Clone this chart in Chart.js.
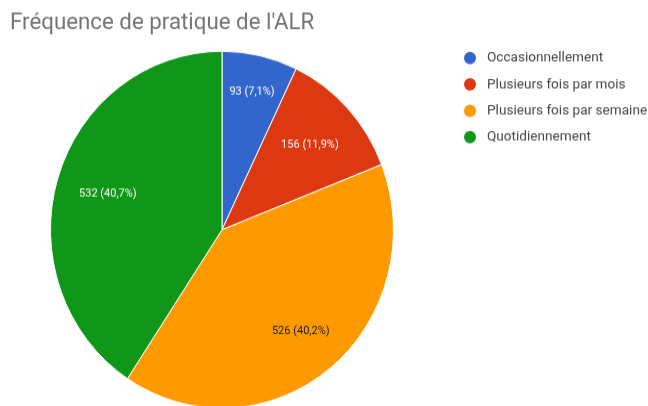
<!DOCTYPE html>
<html><head><meta charset="utf-8">
<script src="https://cdn.jsdelivr.net/npm/chart.js@4/dist/chart.umd.min.js"></script>
<style>
html,body{margin:0;padding:0;background:#fff;overflow:hidden;}
#wrap{width:648px;height:406px;overflow:hidden;}
#c{display:block;width:648px;height:408.7px;}
</style></head>
<body><div id="wrap"><canvas id="c" width="648" height="393" style="width:648px;height:408.7px"></canvas></div>
<script>
const title = "Fréquence de pratique de l'ALR";
const categories = ["Occasionnellement", "Plusieurs fois par mois", "Plusieurs fois par semaine", "Quotidiennement"];
const values = [93, 156, 526, 532];
const colors = ["#3366cc", "#dc3912", "#ff9900", "#109618"];

const labelRadius = [0.79, 0.70, 0.73, 0.695];
const labelColors = ["#ffffff", "#ffffff", "#222222", "#ffffff"];

const overlay = {
  id: 'overlay',
  afterDraw(chart) {
    const ctx = chart.ctx;
    const total = values.reduce((a, b) => a + b, 0);
    ctx.save();
    const meta = chart.getDatasetMeta(0);
    ctx.font = '11px Roboto';
    ctx.textAlign = 'center';
    ctx.textBaseline = 'middle';
    meta.data.forEach((arc, i) => {
      const p = arc.getProps(['x', 'y', 'startAngle', 'endAngle', 'outerRadius']);
      const mid = (p.startAngle + p.endAngle) / 2;
      const r = p.outerRadius * labelRadius[i];
      const pct = (values[i] / total * 100).toFixed(1).replace('.', ',');
      ctx.fillStyle = labelColors[i];
      ctx.fillText(values[i] + ' (' + pct + '%)', p.x + Math.cos(mid) * r, p.y + Math.sin(mid) * r);
    });
    ctx.textAlign = 'left';
    ctx.textBaseline = 'alphabetic';
    ctx.fillStyle = '#757575';
    ctx.font = '22.3px Roboto';
    ctx.fillText(title, 10, 27.5);
    ctx.font = '13.6px Roboto';
    ctx.textBaseline = 'middle';
    categories.forEach((c, i) => {
      const y = 55.8 + i * 25.3;
      ctx.fillStyle = colors[i];
      ctx.beginPath();
      ctx.arc(470, y, 6, 0, Math.PI * 2);
      ctx.fill();
      ctx.fillStyle = '#444444';
      ctx.fillText(c, 487, y);
    });
    ctx.restore();
  }
};

const chart = new Chart(document.getElementById('c'), {
  type: 'pie',
  data: {
    labels: categories,
    datasets: [{
      data: values,
      backgroundColor: colors,
      borderColor: '#ffffff',
      borderWidth: 1,
      hoverOffset: 0
    }]
  },
  options: {
    responsive: false,
    animation: false,
    layout: { padding: { left: 50, top: 48.75, right: 254, bottom: 0.25 } },
    plugins: { legend: { display: false }, tooltip: { enabled: false }, title: { display: false } }
  },
  plugins: [overlay]
});
chart.canvas.style.width = '648px';
chart.canvas.style.height = '408.7px';
</script>
</body></html>
